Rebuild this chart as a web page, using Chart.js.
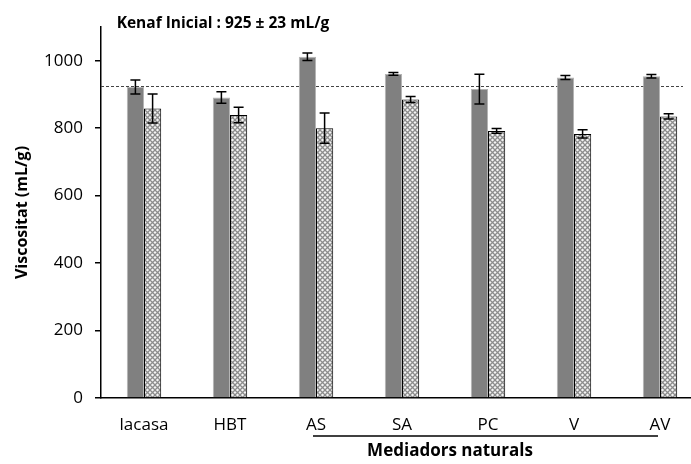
<!DOCTYPE html>
<html>
<head>
<meta charset="utf-8">
<script src="https://cdn.jsdelivr.net/npm/chart.js@4/dist/chart.umd.min.js"></script>
<style>
  html, body { margin: 0; padding: 0; overflow: hidden; background: #fff; }
</style>
</head>
<body>
<canvas id="myChart" width="703" height="464"></canvas>
<script>
// values
var categories = ['lacasa', 'HBT', 'AS', 'SA', 'PC', 'V', 'AV'];
var valuesSolid = [922, 891, 1012, 961, 916, 950, 954];
var errorsSolid = [21, 17, 11, 4, 44, 6, 5];
var valuesHatch = [858, 839, 800, 885, 792, 783, 835];
var errorsHatch = [43, 23, 45, 9, 7, 12, 8];
var initialValue = 925;
var yTicks = [0, 200, 400, 600, 800, 1000];

var FONT = '"Open Sans"';

// crosshatch fill like the excel pattern
function makePattern() {
  var c = document.createElement('canvas');
  c.width = 5; c.height = 5;
  var p = c.getContext('2d');
  p.fillStyle = '#f4f4f4';
  p.fillRect(0, 0, 5, 5);
  p.strokeStyle = '#8c8c8c';
  p.lineWidth = 1.3;
  p.beginPath();
  p.moveTo(0, 0); p.lineTo(5, 5);
  p.moveTo(5, 0); p.lineTo(0, 5);
  p.stroke();
  return p.createPattern(c, 'repeat');
}

var errorBars = {
  id: 'errorBars',
  afterDatasetsDraw: function(chart) {
    var ctx = chart.ctx;
    var y = chart.scales.y;
    var errs = [errorsSolid, errorsHatch];
    ctx.save();
    ctx.strokeStyle = '#000';
    ctx.lineWidth = 1.5;
    chart.data.datasets.forEach(function(ds, i) {
      var meta = chart.getDatasetMeta(i);
      meta.data.forEach(function(bar, j) {
        var v = ds.data[j], e = errs[i][j];
        var top = y.getPixelForValue(v + e);
        var bot = y.getPixelForValue(v - e);
        ctx.beginPath();
        ctx.moveTo(bar.x, top); ctx.lineTo(bar.x, bot);
        ctx.moveTo(bar.x - 5, top); ctx.lineTo(bar.x + 5, top);
        ctx.moveTo(bar.x - 5, bot); ctx.lineTo(bar.x + 5, bot);
        ctx.stroke();
      });
    });
    ctx.restore();
  }
};

var extras = {
  id: 'extras',
  beforeDatasetsDraw: function(chart) {
    var ctx = chart.ctx;
    var y = chart.scales.y;
    var yy = Math.round(y.getPixelForValue(initialValue)) + 0.5;
    ctx.save();
    ctx.strokeStyle = '#444';
    ctx.lineWidth = 1;
    ctx.setLineDash([3, 2]);
    ctx.beginPath();
    ctx.moveTo(chart.chartArea.left, yy);
    ctx.lineTo(683, yy);
    ctx.stroke();
    ctx.restore();
  },
  afterDraw: function(chart) {
    var ctx = chart.ctx;
    var x = chart.scales.x;
    var base = chart.chartArea.bottom;
    ctx.save();
    ctx.fillStyle = '#000';
    ctx.font = 'bold 15.5px ' + FONT;
    ctx.textAlign = 'center';
    ctx.textBaseline = 'middle';
    ctx.fillText('Kenaf Inicial : ' + initialValue + ' \u00b1 23 mL/g', 223, 24);

    // line under the natural mediators
    var x0 = x.getPixelForValue(2) - 3;
    var x1 = x.getPixelForValue(6) - 2;
    ctx.strokeStyle = '#000';
    ctx.lineWidth = 1.5;
    ctx.beginPath();
    ctx.moveTo(x0, base + 38); ctx.lineTo(x1, base + 38);
    ctx.stroke();
    ctx.font = 'bold 17px ' + FONT;
    ctx.fillText('Mediadors naturals', 450, base + 53);
    ctx.restore();
  }
};

var ctx = document.getElementById('myChart').getContext('2d');
var chart = new Chart(ctx, {
  type: 'bar',
  data: {
    labels: categories,
    datasets: [{
      label: 'Serie 1',
      data: valuesSolid,
      backgroundColor: '#808080',
      borderColor: '#b4b4b4',
      borderWidth: 1
    }, {
      label: 'Serie 2',
      data: valuesHatch,
      backgroundColor: makePattern(),
      borderColor: '#000',
      borderWidth: 1
    }]
  },
  options: {
    responsive: false,
    animation: false,
    layout: { padding: { top: 27, right: 0, bottom: 0, left: 0 } },
    categoryPercentage: 0.4,
    barPercentage: 1.0,
    plugins: {
      legend: { display: false },
      tooltip: { enabled: false }
    },
    scales: {
      x: {
        grid: { display: false },
        border: { display: true, color: '#000', width: 1.5 },
        ticks: { color: '#000', font: { family: FONT, size: 17 }, padding: 9 },
        afterFit: function(s) { s.height = 66; }
      },
      y: {
        min: 0,
        max: 1100,
        afterBuildTicks: function(s) {
          s.ticks = yTicks.map(function(v) { return { value: v }; });
        },
        grid: { drawOnChartArea: false, drawTicks: true, tickLength: 6, color: '#000', lineWidth: 1.5 },
        border: { display: true, color: '#000', width: 1.5 },
        ticks: {
          color: '#000',
          font: { family: FONT, size: 17 },
          padding: 12,
          callback: function(v) { return String(v); }
        },
        title: {
          display: true,
          text: 'Viscositat (mL/g)',
          color: '#000',
          font: { family: FONT, size: 16, weight: 'bold' },
          padding: { top: 13, bottom: 0 }
        },
        afterFit: function(s) { s.width = 101; }
      }
    }
  },
  plugins: [extras, errorBars]
});
</script>
</body>
</html>
